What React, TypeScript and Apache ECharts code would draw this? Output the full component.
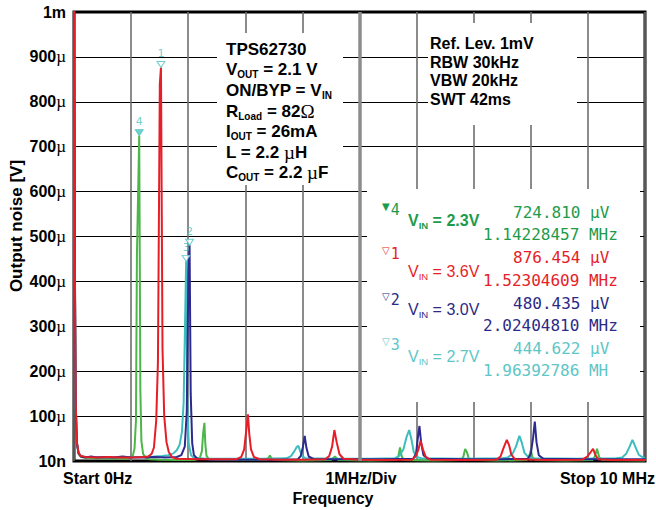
import React, { useEffect, useRef } from 'react';
import * as echarts from 'echarts';

type Pt = [number, number];

// Spectrum sweeps: [frequency in MHz, output noise in µV]
const sweepVin23: Pt[] = [
  [0, 1100], [0.015, 420], [0.03, 120], [0.05, 40], [0.08, 16], [0.12, 9], [0.2, 7], [0.35, 6],
  [0.5, 6], [0.65, 5], [0.8, 6], [0.92, 5], [0.98, 7], [1.03, 12], [1.06, 28], [1.085, 90],
  [1.102, 458], [1.14228457, 724.81], [1.162, 160], [1.18, 45], [1.21, 16], [1.25, 7], [1.32, 4],
  [1.5, 3], [1.8, 2], [2.1, 2], [2.2, 5], [2.24, 22], [2.262, 62], [2.284, 85], [2.3, 38],
  [2.32, 12], [2.36, 4], [2.6, 2], [3.0, 2], [3.36, 2], [3.4, 6], [3.43, 12], [3.46, 6], [3.5, 2],
  [4.0, 1], [4.5, 2], [4.57, 10], [4.63, 2], [5.2, 1], [5.64, 2], [5.68, 10], [5.71, 30],
  [5.74, 10], [5.78, 2], [6.3, 1], [6.78, 2], [6.82, 10], [6.85, 27], [6.88, 20], [6.92, 3],
  [7.4, 1], [7.93, 2], [7.97, 10], [8.0, 24], [8.03, 8], [8.08, 2], [8.6, 1], [9.08, 2],
  [9.12, 10], [9.16, 27], [9.2, 8], [9.25, 2], [10, 1],
];

const sweepVin36: Pt[] = [
  [0, 1100], [0.015, 450], [0.03, 130], [0.05, 42], [0.08, 18], [0.12, 11], [0.2, 9], [0.4, 8],
  [0.6, 9], [0.8, 8], [1.0, 8], [1.2, 9], [1.3, 10], [1.36, 16], [1.4, 30], [1.44, 90],
  [1.47, 220], [1.503, 840], [1.52304609, 876.454], [1.55, 250], [1.58, 100], [1.62, 42],
  [1.66, 20], [1.72, 8], [1.8, 5], [2.2, 4], [2.6, 4], [2.85, 4], [2.93, 9], [2.98, 26],
  [3.02, 72], [3.046, 104], [3.07, 60], [3.1, 26], [3.15, 9], [3.25, 4], [3.6, 3], [4.0, 3],
  [4.4, 4], [4.47, 11], [4.52, 32], [4.56, 69], [4.6, 42], [4.65, 15], [4.72, 5], [5.0, 3],
  [5.5, 2], [5.92, 3], [5.98, 10], [6.03, 25], [6.07, 45], [6.11, 26], [6.16, 9], [6.24, 3],
  [6.8, 2], [7.4, 3], [7.47, 10], [7.52, 28], [7.58, 47], [7.62, 35], [7.66, 14], [7.72, 4],
  [8.3, 2], [8.9, 3], [8.99, 10], [9.05, 20], [9.09, 27], [9.13, 14], [9.18, 4], [9.4, 2], [10, 2],
];

const sweepVin30: Pt[] = [
  [0, 1100], [0.015, 430], [0.03, 125], [0.05, 40], [0.08, 17], [0.12, 10], [0.2, 8], [0.3, 10],
  [0.4, 8], [0.55, 9], [0.7, 8], [0.85, 10], [1.0, 8], [1.2, 8], [1.4, 9], [1.6, 8], [1.8, 9],
  [1.88, 13], [1.94, 32], [1.975, 110], [2.004, 420], [2.0240481, 480.435], [2.044, 150],
  [2.07, 40], [2.1, 13], [2.16, 5], [2.4, 3], [3.0, 3], [3.6, 3], [3.92, 4], [3.97, 11],
  [4.01, 32], [4.04, 56], [4.07, 30], [4.11, 10], [4.2, 4], [4.8, 4], [5.4, 4], [5.94, 5],
  [5.99, 16], [6.02, 50], [6.05, 78], [6.08, 40], [6.12, 13], [6.2, 5], [6.9, 4], [7.5, 4],
  [7.95, 5], [8.0, 16], [8.04, 52], [8.07, 88], [8.1, 42], [8.14, 13], [8.22, 5], [9.0, 4], [10, 4],
];

const sweepVin27: Pt[] = [
  [0, 1100], [0.015, 440], [0.03, 128], [0.05, 42], [0.08, 18], [0.12, 11], [0.2, 9], [0.4, 9],
  [0.6, 8], [0.8, 9], [1.0, 9], [1.2, 9], [1.4, 10], [1.55, 11], [1.65, 13], [1.74, 17],
  [1.8, 24], [1.85, 36], [1.89, 65], [1.92, 130], [1.944, 300], [1.96392786, 444.622],
  [1.984, 130], [2.01, 38], [2.05, 13], [2.1, 7], [2.3, 5], [2.8, 5], [3.3, 5], [3.72, 6],
  [3.8, 11], [3.86, 22], [3.9, 31], [3.93, 34], [3.96, 22], [4.0, 10], [4.06, 6], [4.6, 5],
  [5.2, 5], [5.62, 6], [5.7, 12], [5.77, 26], [5.82, 52], [5.87, 69], [5.91, 48], [5.95, 20],
  [6.0, 9], [6.08, 6], [6.8, 5], [7.5, 6], [7.6, 8], [7.68, 16], [7.74, 32], [7.8, 56],
  [7.84, 42], [7.89, 18], [7.96, 8], [8.05, 6], [8.8, 5], [9.5, 6], [9.6, 8], [9.67, 16],
  [9.73, 32], [9.78, 47], [9.83, 32], [9.89, 14], [9.96, 8], [10, 7],
];

// Marker readouts, ordered 4, 1, 2, 3 (VIN 2.3 V, 3.6 V, 3.0 V, 2.7 V)
const markerIds = ['4', '1', '2', '3'];
const markerFreqMHz = [1.14228457, 1.52304609, 2.0240481, 1.96392786];
const markerLevelUV = [724.81, 876.454, 480.435, 444.622];
const markerLevelText = ['724.810 µV', '876.454 µV', '480.435 µV', '444.622 µV'];
const markerFreqText = ['1.14228457 MHz', '1.52304609 MHz', '2.02404810 MHz', '1.96392786 MH'];
const vinLabels = ['2.3V', '3.6V', '3.0V', '2.7V'];

const yTickLabels = ['10n', '100µ', '200µ', '300µ', '400µ', '500µ', '600µ', '700µ', '800µ', '900µ', '1m'];
const xTickLabels = ['Start 0Hz', '1MHz/Div', 'Stop 10 MHz'];
const xAxisTitle = 'Frequency';
const yAxisTitle = 'Output noise [V]';

const setupLines = [
  '{b|TPS62730}',
  '{b|V}{s|OUT}{b| = 2.1 V}',
  '{b|ON/BYP = V}{s|IN}',
  '{b|R}{s|Load}{b| = 82}{g|Ω}',
  '{b|I}{s|OUT}{b| = 26mA}',
  '{b|L = 2.2 }{g|µ}{b|H}',
  '{b|C}{s|OUT}{b| = 2.2 }{g|µ}{b|F}',
];
const sweepSettings = ['Ref. Lev. 1mV', 'RBW 30kHz', 'VBW 20kHz', 'SWT 42ms'];

const GREEN = '#4cb748';
const RED = '#e61e28';
const NAVY = '#2c2a8e';
const CYAN = '#3dbdbe';
const MARK = '#4ec3c3';
const traceColors = [GREEN, RED, NAVY, CYAN];
const legendColors = ['#1d9b4b', '#e61e28', '#2c2a85', '#5ec6c6'];

const SANS = '"Liberation Sans", Arial, Helvetica, sans-serif';
const SERIF = '"Liberation Serif", "Times New Roman", serif';
const MONO = '"DejaVu Sans Mono", "Liberation Mono", monospace';

export default function App() {
  const ref = useRef<HTMLDivElement>(null);

  useEffect(() => {
    document.body.style.margin = '0';
    const chart = echarts.init(ref.current!, undefined, { renderer: 'svg' });

    const sweeps = [sweepVin23, sweepVin36, sweepVin30, sweepVin27];
    // draw order: 2.3 V, 2.7 V, 3.0 V, 3.6 V (red on top)
    const drawOrder = [0, 3, 2, 1];

    const traceSeries = drawOrder.map((k, n) => ({
      type: 'line',
      name: 'VIN = ' + vinLabels[k],
      data: sweeps[k],
      symbol: 'none',
      showSymbol: false,
      silent: true,
      z: 2,
      lineStyle: { color: traceColors[k], width: 2 },
      itemStyle: { color: traceColors[k] },
      ...(n === 0
        ? {
            markLine: {
              silent: true,
              symbol: ['none', 'none'],
              label: { show: false },
              lineStyle: { color: '#8c8c8c', width: 3.5, type: 'solid' },
              data: [{ xAxis: 5 }],
            },
          }
        : {}),
    }));

    const markerSeries = {
      type: 'scatter',
      z: 5,
      silent: true,
      symbol: 'triangle',
      symbolRotate: 180,
      symbolSize: [8, 6],
      symbolOffset: [0, -3],
      data: markerIds.map((id, i) => ({
        name: id,
        value: [markerFreqMHz[i], markerLevelUV[i]],
        itemStyle: { color: i === 0 ? MARK : '#ffffff', borderColor: MARK, borderWidth: 1 },
      })),
      label: {
        show: true,
        position: 'top',
        distance: 2,
        formatter: (p: any) => p.name,
        color: MARK,
        fontSize: 11,
        fontFamily: '"DejaVu Sans", sans-serif',
      },
    };

    const subRich = (fill: string, bold: boolean, size: number, lh: number) => ({
      v: { fontFamily: SANS, fontSize: size, fontWeight: bold ? 'bold' : 'normal', fill, lineHeight: lh },
      s: {
        fontFamily: SANS,
        fontSize: 9.5,
        fontWeight: bold ? 'bold' : 'normal',
        fill,
        lineHeight: lh,
        padding: [10, 0, 0, 0],
      },
    });

    const legendTop = [210, 254, 300, 345];
    const vinY = [220, 271, 309, 356];
    const levelY = [212, 257, 303, 348];
    const freqY = [234, 280, 325, 370];

    const legendEls: any[] = [];
    markerIds.forEach((id, i) => {
      const col = legendColors[i];
      legendEls.push({
        type: 'text',
        x: 382,
        y: legendTop[i],
        z: 10,
        style: {
          text: `{t|${i === 0 ? '▼' : '▽'}}{d|${id}}`,
          verticalAlign: 'middle',
          rich: {
            t: { fontFamily: '"DejaVu Sans", sans-serif', fontSize: 10, fill: col, padding: [0, 1, 8, 0] },
            d: { fontFamily: MONO, fontSize: 15, fill: col },
          },
        },
      });
      legendEls.push({
        type: 'text',
        x: 408,
        y: vinY[i],
        z: 10,
        style: {
          text: `{v|V}{s|IN}{v| = ${vinLabels[i]}}`,
          verticalAlign: 'middle',
          rich: subRich(col, i === 0, 16, 20),
        },
      });
      legendEls.push({
        type: 'text',
        x: 513,
        y: levelY[i],
        z: 10,
        style: { text: markerLevelText[i], fontFamily: MONO, fontSize: 16, fill: col, verticalAlign: 'middle' },
      });
      legendEls.push({
        type: 'text',
        x: 483,
        y: freqY[i],
        z: 10,
        style: { text: markerFreqText[i], fontFamily: MONO, fontSize: 16, fill: col, verticalAlign: 'middle' },
      });
    });

    const boldRich = {
      b: { fontFamily: SANS, fontSize: 17, fontWeight: 'bold', fill: '#000', lineHeight: 20.6 },
      s: { fontFamily: SANS, fontSize: 10, fontWeight: 'bold', fill: '#000', lineHeight: 20.6, padding: [10, 0, 0, 0] },
      g: { fontFamily: SERIF, fontSize: 19, fill: '#000', lineHeight: 20.6 },
    };

    const option: any = {
      animation: false,
      backgroundColor: '#ffffff',
      grid: {
        left: 74,
        right: 11,
        top: 12,
        bottom: 49,
        show: true,
        borderColor: '#000',
        borderWidth: 3,
        backgroundColor: 'transparent',
      },
      xAxis: {
        type: 'value',
        min: 0,
        max: 10,
        interval: 1,
        axisLine: { show: false },
        axisTick: { show: false },
        axisLabel: { show: false },
        splitLine: { show: true, lineStyle: { color: '#6e6e6e', width: 1.6 } },
      },
      yAxis: {
        type: 'value',
        min: 0,
        max: 1000,
        interval: 100,
        axisLine: { show: false },
        axisTick: { show: false },
        splitLine: { show: true, lineStyle: { color: '#000', width: 1.2 } },
        axisLabel: {
          margin: 8,
          formatter: (v: number) => {
            const s = yTickLabels[Math.round(v / 100)];
            return s.endsWith('µ') ? `{n|${s.slice(0, -1)}}{u|µ}` : `{n|${s}}`;
          },
          rich: {
            n: { fontFamily: SANS, fontWeight: 'bold', fontSize: 16, color: '#000' },
            u: { fontFamily: SERIF, fontSize: 17, color: '#000' },
          },
        },
      },
      series: [...traceSeries, markerSeries],
      graphic: [
        // white panels behind the annotation blocks
        { type: 'rect', z: 1, silent: true, shape: { x: 217, y: 33, width: 126, height: 152 }, style: { fill: '#fff' } },
        { type: 'rect', z: 1, silent: true, shape: { x: 428, y: 23, width: 149, height: 102 }, style: { fill: '#fff' } },
        { type: 'rect', z: 1, silent: true, shape: { x: 367, y: 189, width: 273, height: 213 }, style: { fill: '#fff' } },
        {
          type: 'text',
          x: 226,
          y: 39,
          z: 10,
          style: { text: setupLines.join('\n'), verticalAlign: 'top', rich: boldRich },
        },
        {
          type: 'text',
          x: 430,
          y: 34,
          z: 10,
          style: {
            text: sweepSettings.join('\n'),
            fontFamily: SANS,
            fontSize: 16,
            fontWeight: 'bold',
            fill: '#000',
            lineHeight: 18.7,
            verticalAlign: 'top',
          },
        },
        ...legendEls,
        {
          type: 'text',
          x: 63,
          y: 478,
          z: 10,
          style: { text: xTickLabels[0], fontFamily: SANS, fontSize: 16, fontWeight: 'bold', fill: '#000', align: 'left', verticalAlign: 'middle' },
        },
        {
          type: 'text',
          x: 361,
          y: 478,
          z: 10,
          style: { text: xTickLabels[1], fontFamily: SANS, fontSize: 16, fontWeight: 'bold', fill: '#000', align: 'center', verticalAlign: 'middle' },
        },
        {
          type: 'text',
          x: 655,
          y: 478,
          z: 10,
          style: { text: xTickLabels[2], fontFamily: SANS, fontSize: 16, fontWeight: 'bold', fill: '#000', align: 'right', verticalAlign: 'middle' },
        },
        {
          type: 'text',
          x: 333,
          y: 498,
          z: 10,
          style: { text: xAxisTitle, fontFamily: SANS, fontSize: 16, fontWeight: 'bold', fill: '#000', align: 'center', verticalAlign: 'middle' },
        },
        {
          type: 'text',
          x: 16,
          y: 226,
          z: 10,
          rotation: Math.PI / 2,
          style: { text: yAxisTitle, fontFamily: SANS, fontSize: 17, fontWeight: 'bold', fill: '#000', align: 'center', verticalAlign: 'middle' },
        },
      ],
    };

    chart.setOption(option);
    return () => chart.dispose();
  }, []);

  return (
    <div
      ref={ref}
      style={{ width: 656, height: 510, position: 'absolute', left: 0, top: 0, background: '#fff' }}
    />
  );
}
